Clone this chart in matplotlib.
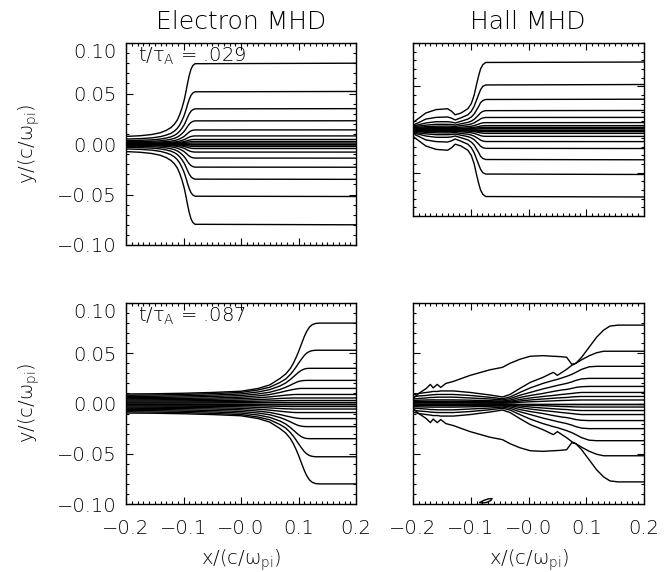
import numpy as np
import matplotlib
matplotlib.use('Agg')
import matplotlib.pyplot as plt
from matplotlib.ticker import MultipleLocator

plt.rcParams['font.family'] = 'DejaVu Sans'
plt.rcParams['font.weight'] = 'light'
plt.rcParams['axes.labelweight'] = 'light'
plt.rcParams['mathtext.fontset'] = 'custom'
plt.rcParams['mathtext.rm'] = 'DejaVu Sans:light'
plt.rcParams['mathtext.it'] = 'DejaVu Sans:light'

# field lines, upper half only (y > 0, units c/omega_pi);
# the lower half of every panel is the mirror image y -> -y.
# last row of each table is the central line y = 0

# Electron MHD, t/tau_A = .029
TL_X = [-0.200, -0.175, -0.155, -0.140, -0.130, -0.122, -0.116, -0.111, -0.107,
        -0.103, -0.099, -0.096, -0.093, -0.090, -0.087, -0.084, -0.080, 0.200]
TL_Y = [
    [0.0075, 0.0082, 0.0094, 0.0112, 0.0135, 0.0162, 0.0195, 0.0235, 0.0285,
     0.0350, 0.0430, 0.0510, 0.0600, 0.0680, 0.0740, 0.0775, 0.0795, 0.0800],
    [0.0049, 0.0053, 0.0061, 0.0073, 0.0088, 0.0105, 0.0127, 0.0153, 0.0185,
     0.0228, 0.0280, 0.0332, 0.0390, 0.0442, 0.0481, 0.0504, 0.0517, 0.0520],
    [0.0033, 0.0036, 0.0041, 0.0049, 0.0059, 0.0071, 0.0085, 0.0103, 0.0125,
     0.0153, 0.0188, 0.0223, 0.0263, 0.0298, 0.0324, 0.0339, 0.0348, 0.0350],
    [0.0022, 0.0024, 0.0027, 0.0032, 0.0039, 0.0047, 0.0056, 0.0068, 0.0082,
     0.0101, 0.0124, 0.0147, 0.0173, 0.0196, 0.0213, 0.0223, 0.0229, 0.0230],
    [0.0013, 0.0014, 0.0016, 0.0020, 0.0024, 0.0028, 0.0034, 0.0041, 0.0050,
     0.0061, 0.0075, 0.0089, 0.0105, 0.0119, 0.0130, 0.0136, 0.0139, 0.0140],
    [0.0008, 0.0008, 0.0009, 0.0011, 0.0014, 0.0016, 0.0020, 0.0024, 0.0028,
     0.0035, 0.0043, 0.0051, 0.0060, 0.0068, 0.0074, 0.0078, 0.0080, 0.0080],
    [0.0004, 0.0005, 0.0005, 0.0006, 0.0008, 0.0009, 0.0011, 0.0013, 0.0016,
     0.0020, 0.0024, 0.0029, 0.0034, 0.0038, 0.0042, 0.0044, 0.0045, 0.0045],
    [0.0002, 0.0003, 0.0003, 0.0004, 0.0004, 0.0005, 0.0006, 0.0007, 0.0009,
     0.0011, 0.0013, 0.0016, 0.0019, 0.0021, 0.0023, 0.0024, 0.0025, 0.0025],
    [0.0001, 0.0001, 0.0001, 0.0001, 0.0002, 0.0002, 0.0002, 0.0003, 0.0004,
     0.0004, 0.0005, 0.0006, 0.0008, 0.0009, 0.0009, 0.0010, 0.0010, 0.0010],
    [0.0, 0.0, 0.0, 0.0, 0.0, 0.0, 0.0, 0.0, 0.0,
     0.0, 0.0, 0.0, 0.0, 0.0, 0.0, 0.0, 0.0, 0.0],
]

# Hall MHD, t/tau_A = .029
TR_X = [-0.200, -0.190, -0.178, -0.160, -0.140, -0.133, -0.127, -0.117, -0.105,
        -0.099, -0.094, -0.090, -0.086, -0.083, -0.079, -0.074, 0.200]
TR_Y = [
    [0.0080, 0.0130, 0.0190, 0.0230, 0.0240, 0.0210, 0.0170, 0.0190, 0.0240,
     0.0300, 0.0400, 0.0520, 0.0630, 0.0700, 0.0750, 0.0775, 0.0780],
    [0.0050, 0.0080, 0.0120, 0.0140, 0.0145, 0.0130, 0.0110, 0.0135, 0.0170,
     0.0210, 0.0270, 0.0340, 0.0410, 0.0460, 0.0500, 0.0515, 0.0520],
    [0.0040, 0.0055, 0.0075, 0.0090, 0.0090, 0.0085, 0.0075, 0.0095, 0.0120,
     0.0145, 0.0180, 0.0225, 0.0270, 0.0310, 0.0335, 0.0347, 0.0350],
    [0.0030, 0.0040, 0.0050, 0.0060, 0.0060, 0.0058, 0.0052, 0.0066, 0.0082,
     0.0097, 0.0118, 0.0144, 0.0170, 0.0193, 0.0210, 0.0218, 0.0220],
    [0.0020, 0.0027, 0.0033, 0.0038, 0.0040, 0.0038, 0.0035, 0.0045, 0.0055,
     0.0064, 0.0077, 0.0093, 0.0109, 0.0123, 0.0134, 0.0139, 0.0140],
    [0.0013, 0.0017, 0.0020, 0.0023, 0.0024, 0.0023, 0.0021, 0.0027, 0.0033,
     0.0038, 0.0045, 0.0054, 0.0063, 0.0071, 0.0077, 0.0079, 0.0080],
    [0.0008, 0.0010, 0.0012, 0.0013, 0.0014, 0.0013, 0.0012, 0.0015, 0.0018,
     0.0021, 0.0025, 0.0030, 0.0035, 0.0040, 0.0043, 0.0045, 0.0045],
    [0.0004, 0.0005, 0.0006, 0.0007, 0.0007, 0.0007, 0.0007, 0.0008, 0.0010,
     0.0012, 0.0014, 0.0017, 0.0020, 0.0022, 0.0024, 0.0025, 0.0025],
    [0.0002, 0.0002, 0.0002, 0.0003, 0.0003, 0.0003, 0.0003, 0.0003, 0.0004,
     0.0005, 0.0006, 0.0007, 0.0008, 0.0009, 0.0010, 0.0010, 0.0010],
    [0.0, 0.0, 0.0, 0.0, 0.0, 0.0, 0.0, 0.0, 0.0,
     0.0, 0.0, 0.0, 0.0, 0.0, 0.0, 0.0, 0.0],
]

# Electron MHD, t/tau_A = .087
BL_X = [-0.200, -0.150, -0.100, -0.050, 0.000, 0.030, 0.050, 0.068, 0.078, 0.086,
        0.091, 0.096, 0.100, 0.105, 0.110, 0.114, 0.119, 0.124, 0.130, 0.137, 0.200]
BL_Y = [
    [0.0095, 0.0097, 0.0102, 0.0110, 0.0122, 0.0150, 0.0185, 0.0250, 0.0295, 0.0350,
     0.0400, 0.0460, 0.0515, 0.0590, 0.0665, 0.0715, 0.0760, 0.0785, 0.0797, 0.0800, 0.0800],
    [0.0082, 0.0085, 0.0090, 0.0098, 0.0110, 0.0135, 0.0162, 0.0210, 0.0245, 0.0290,
     0.0325, 0.0365, 0.0400, 0.0440, 0.0478, 0.0500, 0.0518, 0.0526, 0.0530, 0.0530, 0.0530],
    [0.0070, 0.0072, 0.0077, 0.0084, 0.0095, 0.0115, 0.0138, 0.0175, 0.0205, 0.0240,
     0.0265, 0.0290, 0.0310, 0.0330, 0.0343, 0.0348, 0.0350, 0.0350, 0.0350, 0.0350, 0.0350],
    [0.0058, 0.0060, 0.0064, 0.0070, 0.0079, 0.0095, 0.0112, 0.0140, 0.0162, 0.0183,
     0.0197, 0.0210, 0.0219, 0.0226, 0.0229, 0.0230, 0.0230, 0.0230, 0.0230, 0.0230, 0.0230],
    [0.0047, 0.0048, 0.0051, 0.0055, 0.0063, 0.0076, 0.0089, 0.0110, 0.0124, 0.0134,
     0.0140, 0.0145, 0.0148, 0.0150, 0.0150, 0.0150, 0.0150, 0.0150, 0.0150, 0.0150, 0.0150],
    [0.0036, 0.0037, 0.0039, 0.0042, 0.0048, 0.0057, 0.0066, 0.0077, 0.0083, 0.0087,
     0.0089, 0.0090, 0.0090, 0.0090, 0.0090, 0.0090, 0.0090, 0.0090, 0.0090, 0.0090, 0.0090],
    [0.0025, 0.0026, 0.0027, 0.0029, 0.0033, 0.0039, 0.0044, 0.0050, 0.0053, 0.0054,
     0.0055, 0.0055, 0.0055, 0.0055, 0.0055, 0.0055, 0.0055, 0.0055, 0.0055, 0.0055, 0.0055],
    [0.0015, 0.0015, 0.0016, 0.0017, 0.0020, 0.0023, 0.0026, 0.0028, 0.0029, 0.0030,
     0.0030, 0.0030, 0.0030, 0.0030, 0.0030, 0.0030, 0.0030, 0.0030, 0.0030, 0.0030, 0.0030],
    [0.0006, 0.0006, 0.0006, 0.0007, 0.0008, 0.0009, 0.0010, 0.0010, 0.0010, 0.0010,
     0.0010, 0.0010, 0.0010, 0.0010, 0.0010, 0.0010, 0.0010, 0.0010, 0.0010, 0.0010, 0.0010],
    [0.0, 0.0, 0.0, 0.0, 0.0, 0.0, 0.0, 0.0, 0.0, 0.0,
     0.0, 0.0, 0.0, 0.0, 0.0, 0.0, 0.0, 0.0, 0.0, 0.0, 0.0],
]

# Hall MHD, t/tau_A = .087
BR_X = [-0.200, -0.190, -0.177, -0.170, -0.165, -0.158, -0.152, -0.143, -0.130, -0.101,
        -0.067, -0.045, -0.032, -0.015, 0.003, 0.025, 0.043, 0.050, 0.058, 0.066,
        0.075, 0.082, 0.092, 0.105, 0.118, 0.130, 0.141, 0.155, 0.200]
BR_Y = [
    [0.0050, 0.0100, 0.0150, 0.0190, 0.0155, 0.0190, 0.0160, 0.0200, 0.0220, 0.0280,
     0.0335, 0.0360, 0.0400, 0.0440, 0.0470, 0.0476, 0.0470, 0.0468, 0.0465, 0.0460,
     0.0390, 0.0400, 0.0460, 0.0560, 0.0660, 0.0730, 0.0770, 0.0780, 0.0780],
    [0.0085, 0.0100, 0.0110, 0.0115, 0.0120, 0.0120, 0.0125, 0.0125, 0.0125, 0.0110,
     0.0085, 0.0065, 0.0090, 0.0150, 0.0210, 0.0260, 0.0310, 0.0280, 0.0310, 0.0340,
     0.0380, 0.0400, 0.0435, 0.0475, 0.0505, 0.0520, 0.0520, 0.0520, 0.0520],
    [0.0065, 0.0075, 0.0080, 0.0085, 0.0087, 0.0090, 0.0090, 0.0090, 0.0090, 0.0080,
     0.0062, 0.0048, 0.0065, 0.0110, 0.0155, 0.0200, 0.0230, 0.0240, 0.0255, 0.0270,
     0.0290, 0.0310, 0.0340, 0.0365, 0.0370, 0.0370, 0.0370, 0.0370, 0.0370],
    [0.0045, 0.0050, 0.0055, 0.0060, 0.0060, 0.0063, 0.0063, 0.0063, 0.0063, 0.0055,
     0.0045, 0.0036, 0.0048, 0.0082, 0.0110, 0.0145, 0.0170, 0.0180, 0.0190, 0.0200,
     0.0215, 0.0230, 0.0245, 0.0250, 0.0250, 0.0250, 0.0250, 0.0250, 0.0250],
    [0.0030, 0.0033, 0.0035, 0.0036, 0.0036, 0.0036, 0.0036, 0.0036, 0.0036, 0.0033,
     0.0028, 0.0025, 0.0033, 0.0060, 0.0080, 0.0100, 0.0120, 0.0127, 0.0135, 0.0140,
     0.0150, 0.0160, 0.0167, 0.0170, 0.0170, 0.0170, 0.0170, 0.0170, 0.0170],
    [0.0020, 0.0021, 0.0022, 0.0022, 0.0022, 0.0022, 0.0022, 0.0022, 0.0022, 0.0020,
     0.0018, 0.0017, 0.0022, 0.0040, 0.0055, 0.0070, 0.0080, 0.0085, 0.0090, 0.0095,
     0.0100, 0.0105, 0.0110, 0.0110, 0.0110, 0.0110, 0.0110, 0.0110, 0.0110],
    [0.0012, 0.0012, 0.0012, 0.0012, 0.0012, 0.0012, 0.0012, 0.0012, 0.0012, 0.0011,
     0.0010, 0.0010, 0.0013, 0.0025, 0.0035, 0.0045, 0.0052, 0.0055, 0.0058, 0.0060,
     0.0065, 0.0068, 0.0070, 0.0070, 0.0070, 0.0070, 0.0070, 0.0070, 0.0070],
    [0.0006, 0.0006, 0.0006, 0.0006, 0.0006, 0.0006, 0.0006, 0.0006, 0.0006, 0.0006,
     0.0005, 0.0005, 0.0007, 0.0012, 0.0017, 0.0022, 0.0026, 0.0028, 0.0030, 0.0031,
     0.0033, 0.0034, 0.0035, 0.0035, 0.0035, 0.0035, 0.0035, 0.0035, 0.0035],
    [0.0, 0.0, 0.0, 0.0, 0.0, 0.0, 0.0, 0.0, 0.0, 0.0,
     0.0, 0.0, 0.0, 0.0, 0.0, 0.0, 0.0, 0.0, 0.0, 0.0,
     0.0, 0.0, 0.0, 0.0, 0.0, 0.0, 0.0, 0.0, 0.0],
]
# small closed contour near the lower edge of the Hall panel
BR_LOOP_X = [-0.084, -0.078, -0.070, -0.063, -0.065, -0.073, -0.081, -0.084]
BR_LOOP_Y = [-0.0985, -0.0965, -0.0950, -0.0945, -0.0965, -0.0985, -0.0990, -0.0985]

XTICKS = [-0.2, -0.1, 0.0, 0.1, 0.2]
XTICKLABELS = ['\u22120.2', '\u22120.1', '\u22120.0', '0.1', '0.2']
YTICKS = [-0.10, -0.05, 0.0, 0.05, 0.10]
YTICKLABELS = ['\u22120.10', '\u22120.05', '0.00', '0.05', '0.10']
TITLES = ['Electron MHD', 'Hall MHD']
TIMES = ['.029', '.087']

W, H = 671, 572
fig = plt.figure(figsize=(W / 100, H / 100), dpi=100)


def px_axes(left, top, right, bottom):
    return fig.add_axes([left / W, 1 - bottom / H, (right - left) / W, (bottom - top) / H])


def draw_lines(ax, xs, rows):
    xs = np.asarray(xs)
    for row in rows:
        row = np.asarray(row)
        ax.plot(xs, row, color='k', lw=1.0)
        ax.plot(xs, -row, color='k', lw=1.0)


def style(ax, xlab, ylab):
    ax.set_xlim(-0.2, 0.2)
    ax.set_ylim(-0.1, 0.1)
    ax.set_xticks(XTICKS)
    ax.set_yticks(YTICKS)
    ax.xaxis.set_minor_locator(MultipleLocator(0.01))
    ax.yaxis.set_minor_locator(MultipleLocator(0.01))
    ax.tick_params(which='both', direction='in', top=True, right=True,
                   width=0.8, labelsize=14)
    ax.tick_params(which='major', length=5)
    ax.tick_params(which='minor', length=2.5)
    ax.tick_params(axis='x', pad=11)
    ax.tick_params(axis='y', pad=7)
    for s in ax.spines.values():
        s.set_linewidth(1.0)
    if xlab:
        ax.set_xticklabels(XTICKLABELS)
        ax.set_xlabel(r'x/(c/$\omega_{\rm pi}$)', fontsize=14)
        ax.xaxis.set_label_coords(0.5, -0.215)
        ax.xaxis.label.set_va('top')
    else:
        ax.tick_params(axis='x', labelbottom=False)
    if ylab:
        ax.set_yticklabels(YTICKLABELS)
        ax.yaxis.get_major_ticks()[-1].label1.set_va('top')
        ax.set_ylabel(r'y/(c/$\omega_{\rm pi}$)', fontsize=14)
        ax.yaxis.set_label_coords(-0.365, 0.5)
    else:
        ax.tick_params(axis='y', labelleft=False)


ax_tl = px_axes(126, 43, 356, 245)
ax_tr = px_axes(413, 43, 644, 216)
ax_bl = px_axes(126, 303, 356, 504)
ax_br = px_axes(413, 303, 644, 504)

draw_lines(ax_tl, TL_X, TL_Y)
draw_lines(ax_tr, TR_X, TR_Y)
draw_lines(ax_bl, BL_X, BL_Y)
draw_lines(ax_br, BR_X, BR_Y)
ax_br.plot(BR_LOOP_X, BR_LOOP_Y, color='k', lw=1.0)

style(ax_tl, False, True)
style(ax_tr, False, False)
style(ax_bl, True, True)
style(ax_br, True, False)

for ax, t in zip([ax_tl, ax_bl], TIMES):
    ax.text(0.05, 0.985, r't/$\tau_{\rm A}$ = ' + t, transform=ax.transAxes,
            ha='left', va='top', fontsize=14)

fig.text(241 / W, 1 - 22 / H, TITLES[0], ha='center', va='center', fontsize=18)
fig.text(528 / W, 1 - 22 / H, TITLES[1], ha='center', va='center', fontsize=18)

fig.savefig('out.png', dpi=100)
